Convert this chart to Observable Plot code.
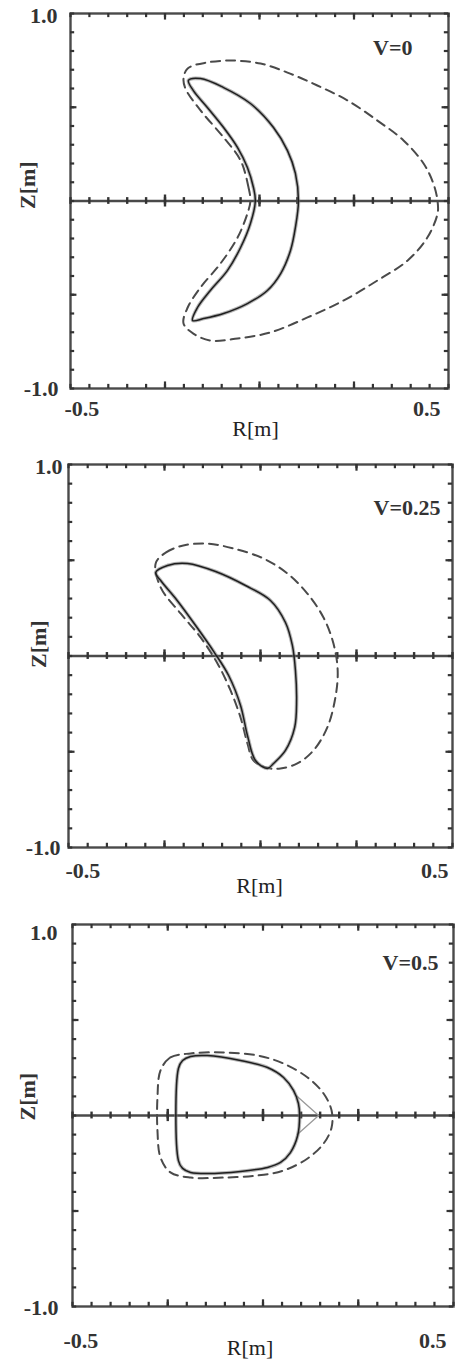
<!DOCTYPE html>
<html>
<head>
<meta charset="utf-8">
<script src="https://cdn.jsdelivr.net/npm/d3@7"></script>
<script src="https://cdn.jsdelivr.net/npm/@observablehq/plot@0.6"></script>
<style>
  body { margin: 0; background: #fff; }
  #chart svg { display: block; }
</style>
</head>
<body>
<div id="chart"></div>
<script>
// ---- axis ticks and labels ----
const rTicks = [-0.5,-0.45,-0.4,-0.35,-0.3,-0.25,-0.2,-0.15,-0.1,-0.05,0,0.05,0.1,0.15,0.2,0.25,0.3,0.35,0.4,0.45,0.5];
const rMajor = [-0.25, 0, 0.25];
const zTicks = [-1,-0.9,-0.8,-0.7,-0.6,-0.5,-0.4,-0.3,-0.2,-0.1,0,0.1,0.2,0.3,0.4,0.5,0.6,0.7,0.8,0.9,1];
const zMajor = [-0.5, 0.5];
const rEndLabels = ["-0.5", "0.5"];
const zEndLabels = ["1.0", "-1.0"];
const xTitle = "R[m]";
const yTitle = "Z[m]";
const panelLabels = ["V=0", "V=0.25", "V=0.5"];

// ---- panel 1 (V=0) ----
const p1SolidR = [-0.188,-0.156,-0.095,-0.024,0.037,0.074,0.095,0.103,0.095,0.082,0.056,0.021,-0.032,-0.095,-0.148,-0.177,-0.164,-0.130,-0.085,-0.050,-0.024,-0.011,-0.016,-0.032,-0.058,-0.095,-0.138,-0.175];
const p1SolidZ = [0.643,0.653,0.605,0.520,0.392,0.269,0.147,0.0,-0.141,-0.264,-0.387,-0.477,-0.547,-0.600,-0.627,-0.637,-0.568,-0.477,-0.371,-0.248,-0.120,0.0,0.072,0.179,0.285,0.392,0.499,0.589];
const p1DashR = [-0.024,-0.029,-0.050,-0.095,-0.156,-0.196,-0.201,-0.190,-0.138,-0.069,0.003,0.074,0.153,0.233,0.312,0.381,0.434,0.460,0.471,0.471,0.444,0.392,0.312,0.222,0.127,0.029,-0.058,-0.130,-0.175,-0.201,-0.190,-0.156,-0.103,-0.058,-0.032];
const p1DashZ = [0.0,0.072,0.216,0.339,0.483,0.600,0.653,0.707,0.739,0.749,0.733,0.685,0.616,0.536,0.429,0.323,0.200,0.093,0.0,-0.067,-0.195,-0.317,-0.424,-0.531,-0.621,-0.701,-0.733,-0.744,-0.707,-0.653,-0.568,-0.461,-0.333,-0.195,-0.067];

// ---- panel 2 (V=0.25) ----
const p2SolidR = [-0.273,-0.242,-0.190,-0.117,-0.039,0.026,0.065,0.083,0.091,0.094,0.089,0.065,0.034,0.018,-0.013,-0.034,-0.052,-0.083,-0.120,-0.169,-0.221,-0.260];
const p2SolidZ = [0.436,0.473,0.483,0.441,0.368,0.290,0.175,0.055,-0.076,-0.232,-0.373,-0.493,-0.561,-0.587,-0.546,-0.415,-0.258,-0.102,0.018,0.159,0.300,0.394];
const p2DashR = [-0.273,-0.247,-0.201,-0.138,-0.070,0.008,0.070,0.122,0.164,0.190,0.201,0.195,0.174,0.138,0.096,0.052,0.020,-0.018,-0.034,-0.052,-0.078,-0.112,-0.156,-0.208,-0.260];
const p2DashZ = [0.483,0.540,0.577,0.587,0.561,0.509,0.431,0.326,0.201,0.065,-0.076,-0.217,-0.373,-0.493,-0.561,-0.587,-0.585,-0.546,-0.457,-0.321,-0.180,-0.039,0.097,0.222,0.358];

// ---- panel 3 (V=0.5) ----
const p3SolidR = [-0.222,-0.211,-0.190,-0.146,-0.059,0.012,0.054,0.080,0.093,0.096,0.091,0.072,0.046,0.012,-0.059,-0.146,-0.190,-0.211,-0.222];
const p3SolidZ = [0.246,0.288,0.309,0.314,0.288,0.251,0.199,0.131,0.063,0.0,-0.105,-0.194,-0.246,-0.272,-0.293,-0.304,-0.298,-0.277,-0.236];
const p3SpikeR = [0.090, 0.146, 0.090];
const p3SpikeZ = [0.100, 0.0, -0.100];
const p3DashR = [-0.269,-0.243,-0.190,-0.104,-0.014,0.054,0.117,0.159,0.180,0.180,0.159,0.117,0.054,-0.014,-0.104,-0.190,-0.243,-0.269,-0.277,-0.277];
const p3DashZ = [0.236,0.304,0.325,0.330,0.314,0.272,0.199,0.115,0.026,-0.063,-0.147,-0.225,-0.288,-0.314,-0.325,-0.325,-0.298,-0.220,-0.079,0.094];

const pts = (R, Z) => R.map((r, i) => ({r, z: Z[i]}));

const FONT = "'Liberation Serif', 'Times New Roman', serif";
const INK = "#333";

function panel(cfg) {
  const L = cfg.lab;
  const txt = (s, o) => Plot.text([s], {text: d => d, fill: INK, fontSize: 22, fontWeight: "bold", fontFamily: FONT, lineAnchor: "middle", ...o});
  const marks = [
    Plot.frame({stroke: "#4a4a4a", strokeWidth: 2.4}),
    Plot.ruleY([0], {stroke: "#4a4a4a", strokeWidth: 2.6}),
    // frame ticks (inward)
    Plot.ruleX(rTicks, {y1: -1, y2: -0.978, stroke: "#333", strokeWidth: 2.2}),
    Plot.ruleX(rTicks, {y1: 1, y2: 0.978, stroke: "#333", strokeWidth: 2.2}),
    Plot.ruleX(rMajor, {y1: -1, y2: -0.965, stroke: "#333", strokeWidth: 2.2}),
    Plot.ruleX(rMajor, {y1: 1, y2: 0.965, stroke: "#333", strokeWidth: 2.2}),
    Plot.ruleY(zTicks, {x1: -0.5, x2: -0.489, stroke: "#333", strokeWidth: 2.2}),
    Plot.ruleY(zTicks, {x1: 0.5, x2: 0.489, stroke: "#333", strokeWidth: 2.2}),
    Plot.ruleY(zMajor, {x1: -0.5, x2: -0.483, stroke: "#333", strokeWidth: 2.2}),
    Plot.ruleY(zMajor, {x1: 0.5, x2: 0.483, stroke: "#333", strokeWidth: 2.2}),
    // ticks on the Z=0 line
    Plot.ruleX(rTicks, {y1: -0.018, y2: 0.018, stroke: "#333", strokeWidth: 2.4}),
    Plot.ruleX(rMajor, {y1: -0.032, y2: 0.032, stroke: "#333", strokeWidth: 2.4}),
    // contours
    Plot.line(cfg.dash, {x: "r", y: "z", curve: "catmull-rom-closed", stroke: "#4a4a4a", strokeWidth: 2, strokeDasharray: "9,6"}),
    ...(cfg.extra || []),
    Plot.line(cfg.solid, {x: "r", y: "z", curve: "catmull-rom-closed", stroke: "#777", strokeWidth: 3.6, strokeOpacity: 0.55}),
    Plot.line(cfg.solid, {x: "r", y: "z", curve: "catmull-rom-closed", stroke: "#1e1e1e", strokeWidth: 1.5}),
    // labels
    txt(rEndLabels[0], {frameAnchor: "bottom-left", dx: L.xl[0], dy: L.xl[1]}),
    txt(rEndLabels[1], {frameAnchor: "bottom-right", dx: L.xr[0], dy: L.xr[1]}),
    txt(xTitle, {frameAnchor: "bottom", dx: L.xt[0], dy: L.xt[1], fontWeight: "normal", fill: "#222"}),
    txt(zEndLabels[0], {frameAnchor: "top-left", textAnchor: "end", dx: L.yt[0], dy: L.yt[1]}),
    txt(zEndLabels[1], {frameAnchor: "bottom-left", textAnchor: "end", dx: L.yb[0], dy: L.yb[1]}),
    txt(yTitle, {frameAnchor: "left", rotate: -90, dx: L.zt[0], dy: L.zt[1]}),
    txt(cfg.label, {frameAnchor: "top-right", textAnchor: "end", dx: L.v[0], dy: L.v[1]})
  ];
  return Plot.plot({
    width: 467, height: cfg.height,
    marginTop: cfg.m[0], marginRight: cfg.m[1], marginBottom: cfg.m[2], marginLeft: cfg.m[3],
    x: {domain: [-0.5, 0.5], axis: null},
    y: {domain: [-1, 1], axis: null},
    style: {background: "#fff", fontFamily: FONT},
    marks
  });
}

const root = document.getElementById("chart");
root.append(panel({
  height: 440, m: [13, 19, 52, 70],
  solid: pts(p1SolidR, p1SolidZ), dash: pts(p1DashR, p1DashZ), label: panelLabels[0],
  lab: {xl: [-6, 20], xr: [-8, 20], xt: [-4, 40], yt: [-13, 2], yb: [-12, 0], zt: [-43, 8], v: [-36, 34]}
}));
root.append(panel({
  height: 460, m: [24, 15, 53, 68],
  solid: pts(p2SolidR, p2SolidZ), dash: pts(p2DashR, p2DashZ), label: panelLabels[1],
  lab: {xl: [-3, 23], xr: [-4, 23], xt: [-1, 38], yt: [-6, 2], yb: [-8, 0], zt: [-30, 12], v: [-12, 43]}
}));
root.append(panel({
  height: 468, m: [24, 14, 62, 72],
  solid: pts(p3SolidR, p3SolidZ), dash: pts(p3DashR, p3DashZ), label: panelLabels[2],
  extra: [Plot.line(pts(p3SpikeR, p3SpikeZ), {x: "r", y: "z", curve: "linear", stroke: "#999", strokeWidth: 1.3})],
  lab: {xl: [-9, 34], xr: [-7, 34], xt: [-13, 41], yt: [-15, 8], yb: [-14, 1], zt: [-45, 5], v: [-15, 38]}
}));
</script>
</body>
</html>
